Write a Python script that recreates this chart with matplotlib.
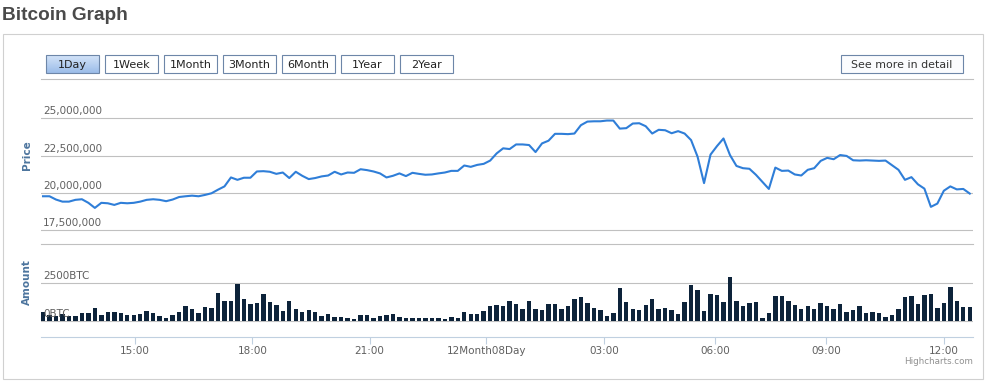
import numpy as np
import matplotlib
matplotlib.use('agg')
import matplotlib.pyplot as plt
from matplotlib.patches import Rectangle
from matplotlib.colors import LinearSegmentedColormap

W, H = 988, 383

# price in millions, one point per 10 minutes (ordinal axis)
price = [
    19.78, 19.78, 19.56, 19.42, 19.42, 19.54, 19.58, 19.34, 19.00, 19.34,
    19.31, 19.20, 19.34, 19.31, 19.34, 19.42, 19.54, 19.58, 19.54, 19.45,
    19.56, 19.73, 19.78, 19.82, 19.78, 19.87, 19.98, 20.22, 20.44, 21.04,
    20.88, 21.02, 21.02, 21.44, 21.46, 21.42, 21.28, 21.37, 21.00, 21.42,
    21.15, 20.93, 21.00, 21.11, 21.17, 21.42, 21.24, 21.37, 21.35, 21.59,
    21.53, 21.44, 21.31, 21.04, 21.15, 21.31, 21.13, 21.35, 21.28, 21.22,
    21.24, 21.31, 21.37, 21.48, 21.48, 21.84, 21.75, 21.88,
    21.95, 22.17, 22.65, 22.99, 22.94, 23.25, 23.25, 23.21, 22.74, 23.32,
    23.50, 23.96, 23.96, 23.94, 23.98, 24.54, 24.78, 24.80, 24.80, 24.85,
    24.85, 24.31, 24.34, 24.65, 24.67, 24.47, 23.98, 24.23, 24.20, 24.00,
    24.14, 23.98, 23.54, 22.43, 20.66, 22.57, 23.14, 23.65, 22.54, 21.81,
    21.66, 21.62, 21.22, 20.75, 20.27, 21.70, 21.48, 21.50, 21.24, 21.17,
    21.55, 21.66, 22.15, 22.35, 22.26, 22.54, 22.48, 22.19, 22.17, 22.19,
    22.17, 22.15, 22.17, 21.86, 21.55, 20.88, 21.06, 20.58, 20.29, 19.07,
    19.29, 20.15, 20.44, 20.24, 20.27, 19.96,
]

# traded amount in BTC
volume = [
    560, 400, 290, 470, 300, 335, 513, 513, 870, 380,
    558, 558, 513, 380, 380, 424, 647, 491, 335, 200,
    402, 602, 982, 803, 513, 914, 847, 1851, 1316, 1316,
    2453, 1450, 1115, 1182, 1784, 1249, 1048, 647, 1316, 780,
    580, 714, 580, 312, 446, 245, 245, 178, 112, 379,
    379, 200, 335, 379, 446, 245, 178, 178, 178, 178,
    178, 178, 112, 245, 200, 580, 446, 446, 647, 981,
    1048, 981, 1316, 1115, 780, 1316, 780, 714, 1115, 1115,
    780, 981, 1450, 1583, 1182, 847, 714, 312, 513, 2185,
    1249, 780, 714, 1048, 1450, 780, 847, 714, 446, 1249,
    2386, 2052, 647, 1784, 1717, 1249, 2921, 1316, 981, 1182,
    1249, 178, 513, 1650, 1650, 1316, 1048, 780, 981, 780,
    1182, 1000, 780, 1115, 580, 714, 981, 513, 580, 513,
    245, 379, 780, 1583, 1650, 1115, 1717, 1784, 847, 1182,
    2252, 1316, 914, 914,
]

tick_idx = [14.2, 32.3, 50.4, 68.4, 86.6, 103.7, 120.8, 139.0]
tick_labels = ['15:00', '18:00', '21:00', '12Month08Day', '03:00', '06:00',
               '09:00', '12:00']
price_ticks = [17500000, 20000000, 22500000, 25000000]
volume_ticks = [0, 2500]
buttons = ['1Day', '1Week', '1Month', '3Month', '6Month', '1Year', '2Year']

GRID = '#c0c0c0'
LABEL = '#606060'
TITLE = '#4d759e'


def fx(x):
    return x / W


def fy(y):
    return 1 - y / H


fig = plt.figure(figsize=(W / 100, H / 100), dpi=100)

fig.text(fx(2), fy(19.5), 'Bitcoin Graph', fontsize=13.7, fontweight='bold',
         color='#4a4a4a', family='Liberation Sans', va='baseline')
fig.patches.append(Rectangle((fx(3), fy(379)), 980 / W, 345 / H,
                             transform=fig.transFigure, fill=False,
                             ec='#d0d0d0', lw=0.8))

# range selector buttons
x0 = 46
for k, name in enumerate(buttons):
    bx = x0 + k * 59
    if k == 0:
        bax = fig.add_axes([fx(bx), fy(73), 53 / W, 18 / H])
        cmap = LinearSegmentedColormap.from_list('sel', ['#9cbde9', '#d3e3f8'])
        bax.imshow(np.linspace(0, 1, 20)[:, None], cmap=cmap, aspect='auto',
                   extent=(0, 1, 0, 1), origin='lower')
        bax.axis('off')
        fc = 'none'
    else:
        fc = 'white'
    fig.patches.append(Rectangle((fx(bx), fy(73)), 53 / W, 18 / H,
                                 transform=fig.transFigure, fc=fc,
                                 ec='#6d86a8', lw=0.8))
    fig.text(fx(bx + 26.5), fy(64.5), name, ha='center', va='center',
             fontsize=8, color='#222222')

fig.patches.append(Rectangle((fx(841), fy(73)), 122 / W, 18 / H,
                             transform=fig.transFigure, fc='#fbfcfe',
                             ec='#6d86a8', lw=0.8))
fig.text(fx(902), fy(64.5), 'See more in detail', ha='center', va='center',
         fontsize=7.9, color='#333333')

x = np.arange(len(price))
xlim = (-0.31, 143.5)

# price panel
ax = fig.add_axes([fx(41), fy(244), 932 / W, 165 / H])
ax.plot(x, np.array(price) * 1e6, color='#2f7ed8', lw=1.5, zorder=3,
        solid_joinstyle='round')
ax.set_xlim(*xlim)
ax.set_ylim(16.583e6, 27.632e6)
ax.set_yticks(price_ticks)
ax.set_xticks([])
ax.grid(axis='y', color=GRID, lw=0.8)
ax.tick_params(axis='y', length=0, labelleft=False)
for side in ('left', 'right', 'bottom'):
    ax.spines[side].set_visible(False)
ax.spines['top'].set_color(GRID)
ax.spines['top'].set_linewidth(0.8)
for v in price_ticks:
    ax.annotate('{:,}'.format(v), (0, v), xycoords=('axes fraction', 'data'),
                xytext=(1.5, 1.5), textcoords='offset points', ha='left',
                va='bottom', fontsize=7.5, color=LABEL, zorder=5)

# volume panel
vax = fig.add_axes([fx(41), fy(337), 932 / W, 93 / H])
vax.bar(x, volume, width=0.68, color='#0d233a', zorder=3)
vax.set_xlim(*xlim)
vax.set_ylim(-1090, 5127)
vax.set_yticks(volume_ticks)
vax.grid(axis='y', color=GRID, lw=0.8)
vax.tick_params(axis='y', length=0, labelleft=False)
vax.set_xticks(tick_idx)
vax.set_xticklabels(tick_labels)
vax.tick_params(axis='x', direction='out', length=5, width=0.8,
                color='#c0d0e0', labelsize=7.5, labelcolor=LABEL, pad=1.5)
for side in ('left', 'right'):
    vax.spines[side].set_visible(False)
vax.spines['top'].set_color(GRID)
vax.spines['top'].set_linewidth(0.8)
vax.spines['bottom'].set_color('#c0d0e0')
vax.spines['bottom'].set_linewidth(0.8)
for v in volume_ticks:
    vax.annotate('{}BTC'.format(v), (0, v),
                 xycoords=('axes fraction', 'data'), xytext=(1.5, 1.5),
                 textcoords='offset points', ha='left', va='bottom',
                 fontsize=7.5, color=LABEL, zorder=5)

fig.text(fx(27), fy(155), 'Price', rotation=90, ha='center', va='center',
         fontsize=7.5, fontweight='bold', color=TITLE)
fig.text(fx(27), fy(282), 'Amount', rotation=90, ha='center', va='center',
         fontsize=7.5, fontweight='bold', color=TITLE)
fig.text(fx(973), fy(361), 'Highcharts.com', ha='right', va='center',
         fontsize=6.3, color='#909090')

fig.savefig('out.png', dpi=100)
